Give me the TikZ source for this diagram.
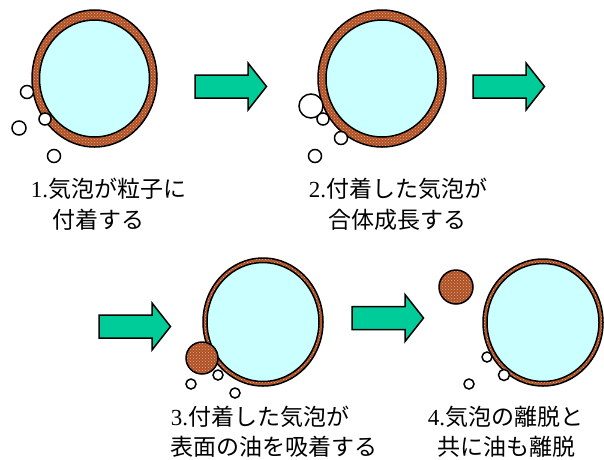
\documentclass[tikz,border=0pt]{standalone}
\usepackage{fontspec}
\setmainfont{Liberation Serif}
\newfontfamily\jp{Noto Sans CJK JP}
\usetikzlibrary{patterns}
\definecolor{oilbrown}{RGB}{176,80,34}
\definecolor{coreblue}{RGB}{204,255,255}
\definecolor{arrowgreen}{RGB}{0,204,153}

\begin{document}
\begin{tikzpicture}[x=1pt,y=-1pt,line width=1.5pt,
    core/.style={draw=black,fill=coreblue},
    bubble/.style={draw=black,fill=white},
    oildrop/.style={draw=black,fill=oilbrown},
    blockarrow/.style={draw=black,fill=arrowgreen,line join=miter},
    steptext/.style={inner sep=0pt,anchor=base west,font=\fontsize{23}{30}\selectfont}]
\useasboundingbox (0,0) rectangle (604,459);
% particle: centre, outer radii (oil layer), inner radii (core)
\def\particle(#1,#2)#3#4#5#6{%
  \fill[oilbrown] (#1,#2) ellipse [x radius=#3pt,y radius=#4pt];
  \fill[pattern=crosshatch dots,pattern color=white!55!oilbrown] (#1,#2) ellipse [x radius=#3pt,y radius=#4pt];
  \draw (#1,#2) ellipse [x radius=#3pt,y radius=#4pt];
  \draw[core] (#1,#2) ellipse [x radius=#5pt,y radius=#6pt];}
\def\greenarrow(#1,#2){%
  \draw[blockarrow,shift={(#1,#2)}] (0,-11.5) -- (53,-11.5) -- (53,-23.5)
    -- (71.5,0) -- (53,23.5) -- (53,11.5) -- (0,11.5) -- cycle;}
\def\oilblob(#1,#2)#3{%
  \fill[oilbrown] (#1,#2) circle (#3pt);
  \fill[pattern=crosshatch dots,pattern color=white!55!oilbrown] (#1,#2) circle (#3pt);
  \draw (#1,#2) circle (#3pt);}

% 1. bubbles attach
\particle(94.5,78.5){62.5}{68.5}{55}{58.5}
\draw[bubble] (27,92) circle (6.5pt);
\draw[bubble] (45,119) circle (6pt);
\draw[bubble] (19,128) circle (7pt);
\draw[bubble] (54,156) circle (6.5pt);
\greenarrow(195,86.5)

% 2. bubbles grow together
\particle(382,78.5){64}{68.5}{56}{58.5}
\draw[bubble] (311,106) circle (12pt);
\draw[bubble] (323,119) circle (6pt);
\draw[bubble] (341,138) circle (6.5pt);
\draw[bubble] (315,156) circle (6.5pt);
\greenarrow(473,86.5)

% 3. oil taken up by the bubble
\greenarrow(99,326.5)
\particle(263,322){60}{64}{56}{59.5}
\oilblob(202,358){16}
\draw[bubble] (218,375) circle (5pt);
\draw[bubble] (191,384) circle (5pt);
\draw[bubble] (235,393) circle (5pt);

% 4. bubble leaves with the oil
\greenarrow(352,318)
\particle(543,322.5){60}{63.5}{56}{59}
\oilblob(456,287){17}
\draw[bubble] (487,357) circle (5pt);
\draw[bubble] (504,375) circle (5.5pt);
\draw[bubble] (469,384) circle (5pt);

\node[steptext] (t1a) at (30,197) {1.\jp 気泡が粒子に};
\node[steptext] (t1b) at (52,228) {\jp 付着する};
\node[steptext] (t2a) at (308,197) {2.\jp 付着した気泡が};
\node[steptext] (t2b) at (328,228) {\jp 合体成長する};
\node[steptext] (t3a) at (170,425) {3.\jp 付着した気泡が};
\node[steptext] (t3b) at (170,455) {\jp 表面の油を吸着する};
\node[steptext] (t4a) at (427,425) {4.\jp 気泡の離脱と};
\node[steptext] (t4b) at (437,455) {\jp 共に油も離脱};
\end{tikzpicture}
\end{document}
